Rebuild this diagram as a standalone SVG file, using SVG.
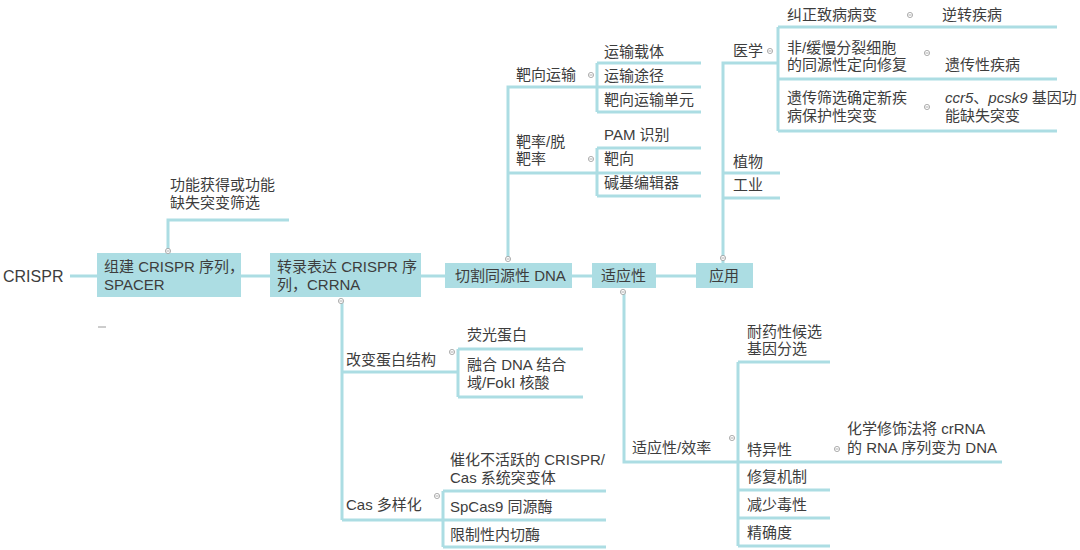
<svg xmlns="http://www.w3.org/2000/svg" width="1080" height="550" viewBox="0 0 1080 550">
<defs>
<style>
.t{font-family:"Liberation Sans","Noto Sans CJK SC",sans-serif;font-size:15px;fill:#3d3d3d}
.b{fill:#acdde3}
.c{fill:none;stroke:#acdde3;stroke-width:3}
.k circle{fill:#fff;stroke:#9a9a9a;stroke-width:0.8}
.k line{stroke:#9a9a9a;stroke-width:0.8}
</style>
<g id="col"><circle cx="0" cy="0" r="2.6" fill="#fff" stroke="#9a9a9a" stroke-width="0.8"/><line x1="-1.6" y1="0" x2="1.6" y2="0" stroke="#9a9a9a" stroke-width="0.8"/></g>
</defs>
<rect width="1080" height="550" fill="#fff"/>

<g id="connectors" class="c">
<path d="M70 276H97M241 276H270M421 276H445M572 276H592M656 276H696"/>
<path d="M168 251V220H289"/>
<path d="M342 301V520M342 372H458M458 349V397M458 349H583M458 397H583"/>
<path d="M342 520H443M443 491V547M443 491H606M443 520H606M443 547H606"/>
<path d="M508 260V87H597M508 173H597M597 63V112M597 63H701M597 87H701M597 112H701M597 148V196M597 148H701M597 173H701M597 196H701"/>
<path d="M723 263V63H778M778 27V131M778 27H1057M778 79H1057M778 131H1057M723 173H780M723 198H780"/>
<path d="M624 292V462H738M738 362V546M738 362H830M738 462H1002M738 490H830M738 518H830M738 546H830"/>
</g>

<g id="n-crispr"><text class="t" x="3" y="282" style="font-size:16px">CRISPR</text></g>
<g id="n-build"><rect class="b" x="97" y="253" width="144" height="44"/><text class="t" x="104" y="272">组建 CRISPR 序列，</text><text class="t" x="104" y="290">SPACER</text><use href="#col" x="168" y="251"/></g>
<g id="n-mark"><line x1="98" y1="327" x2="106" y2="327" stroke="#9a9a9a" stroke-width="1"/></g>
<g id="n-gain"><text class="t" x="170" y="190">功能获得或功能</text><text class="t" x="170" y="208">缺失突变筛选</text></g>
<g id="n-trans"><rect class="b" x="270" y="253" width="151" height="44"/><text class="t" x="277" y="272">转录表达 CRISPR 序</text><text class="t" x="277" y="290">列，CRRNA</text><use href="#col" x="341" y="301"/></g>
<g id="n-cut"><rect class="b" x="445" y="263" width="127" height="25"/><text class="t" x="455" y="281">切割同源性 DNA</text><use href="#col" x="508" y="259"/></g>
<g id="n-adapt"><rect class="b" x="592" y="263" width="64" height="25"/><text class="t" x="601" y="281">适应性</text><use href="#col" x="623" y="292"/></g>
<g id="n-app"><rect class="b" x="696" y="263" width="57" height="25"/><text class="t" x="709" y="281">应用</text><use href="#col" x="723" y="258"/></g>

<g id="n-deliv"><text class="t" x="516" y="80">靶向运输</text><use href="#col" x="591" y="75"/></g>
<g id="n-d1"><text class="t" x="604" y="57">运输载体</text></g>
<g id="n-d2"><text class="t" x="604" y="81">运输途径</text></g>
<g id="n-d3"><text class="t" x="604" y="105">靶向运输单元</text></g>
<g id="n-rate"><text class="t" x="516" y="147">靶率/脱</text><text class="t" x="516" y="164">靶率</text><use href="#col" x="591" y="159"/></g>
<g id="n-r1"><text class="t" x="604" y="140">PAM 识别</text></g>
<g id="n-r2"><text class="t" x="604" y="164">靶向</text></g>
<g id="n-r3"><text class="t" x="604" y="188">碱基编辑器</text></g>

<g id="n-med"><text class="t" x="733" y="56">医学</text><use href="#col" x="770" y="51"/></g>
<g id="n-m1"><text class="t" x="787" y="20">纠正致病病变</text><use href="#col" x="910" y="15"/></g>
<g id="n-m1a"><text class="t" x="942" y="20">逆转疾病</text></g>
<g id="n-m2"><text class="t" x="787" y="53">非/缓慢分裂细胞</text><text class="t" x="787" y="70">的同源性定向修复</text><use href="#col" x="927" y="53"/></g>
<g id="n-m2a"><text class="t" x="945" y="70">遗传性疾病</text></g>
<g id="n-m3"><text class="t" x="787" y="103">遗传筛选确定新疾</text><text class="t" x="787" y="121">病保护性突变</text><use href="#col" x="927" y="107"/></g>
<g id="n-m3a"><text class="t" x="945" y="103"><tspan font-style="italic">ccr5</tspan>、<tspan font-style="italic">pcsk9</tspan> 基因功</text><text class="t" x="945" y="121">能缺失突变</text></g>
<g id="n-plant"><text class="t" x="733" y="167">植物</text></g>
<g id="n-ind"><text class="t" x="733" y="190">工业</text></g>

<g id="n-prot"><text class="t" x="346" y="365">改变蛋白结构</text><use href="#col" x="452" y="352"/></g>
<g id="n-p1"><text class="t" x="467" y="340">荧光蛋白</text></g>
<g id="n-p2"><text class="t" x="467" y="370">融合 DNA 结合</text><text class="t" x="467" y="388">域/FokI 核酸</text></g>
<g id="n-cas"><text class="t" x="346" y="510">Cas 多样化</text><use href="#col" x="437" y="496"/></g>
<g id="n-c1"><text class="t" x="450" y="465">催化不活跃的 CRISPR/</text><text class="t" x="450" y="483">Cas 系统突变体</text></g>
<g id="n-c2"><text class="t" x="450" y="512">SpCas9 同源酶</text></g>
<g id="n-c3"><text class="t" x="450" y="540">限制性内切酶</text></g>

<g id="n-eff"><text class="t" x="632" y="453">适应性/效率</text><use href="#col" x="732" y="438"/></g>
<g id="n-e1"><text class="t" x="747" y="337">耐药性候选</text><text class="t" x="747" y="354">基因分选</text></g>
<g id="n-e2"><text class="t" x="747" y="455">特异性</text><use href="#col" x="837" y="449"/></g>
<g id="n-e2a"><text class="t" x="847" y="434">化学修饰法将 crRNA</text><text class="t" x="847" y="453">的 RNA 序列变为 DNA</text></g>
<g id="n-e3"><text class="t" x="747" y="482">修复机制</text></g>
<g id="n-e4"><text class="t" x="747" y="510">减少毒性</text></g>
<g id="n-e5"><text class="t" x="747" y="538">精确度</text></g>
</svg>
